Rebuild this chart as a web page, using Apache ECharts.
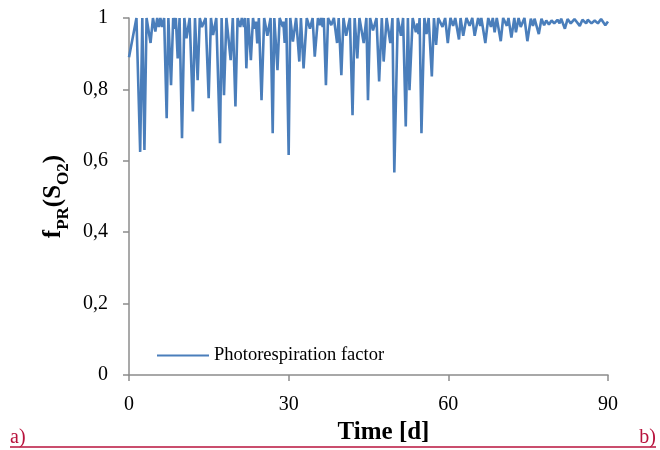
<!DOCTYPE html>
<html>
<head>
<meta charset="utf-8">
<script src="https://cdn.jsdelivr.net/npm/echarts@6/dist/echarts.min.js"></script>
<style>html,body{margin:0;padding:0;background:#fff}#c{width:660px;height:450px}</style>
</head>
<body>
<div id="c"></div>
<script>
var xTicks = [0, 30, 60, 90];
var yTicks = [0, 0.2, 0.4, 0.6, 0.8, 1];
var timeDays = [
0,1.4,2.1,2.5,2.9,3.3,4.05,4.5,4.95,5.3,5.6,5.9,6.2,6.6,7.08,7.4,7.9,8.3,8.6,8.8,9.15,9.5,9.96,10.4,10.8,11.4,12.0,12.4,12.9,13.3,13.7,14.4,14.97,15.4,15.8,16.4,17.1,17.4,17.85,18.3,19.1,19.5,20.0,20.4,20.9,21.2,21.6,21.8,22.05,22.4,22.9,23.3,23.6,23.85,24.1,24.4,24.9,25.4,26.0,26.6,27.0,27.3,27.9,28.3,28.9,29.0,29.25,29.55,30.0,30.3,30.8,31.4,32.0,32.3,32.8,33.4,34.0,34.5,34.9,35.5,35.9,36.1,36.4,36.6,37.0,37.4,38.0,38.5,39.1,39.4,39.9,40.3,40.8,41.5,42.0,42.4,42.9,43.3,44.1,44.6,44.9,45.3,45.85,46.5,47.0,47.5,47.85,48.4,49.1,49.5,49.85,50.5,51.1,51.5,52.0,52.4,52.7,53.3,53.9,54.2,54.4,54.6,54.95,55.5,55.9,56.3,56.9,57.3,57.7,58.1,58.9,59.4,59.9,60.4,60.9,61.3,62.0,62.3,62.8,63.4,64.0,64.5,64.95,65.6,66.0,66.2,66.95,67.5,68.0,68.35,68.7,69.1,69.85,70.3,71.0,71.3,71.85,72.4,72.7,73.2,73.6,74.3,74.85,75.5,75.9,76.2,77.0,77.5,78.0,78.4,78.9,79.4,79.9,80.5,80.9,81.2,81.9,82.4,83.0,83.7,84.7,85.2,85.9,86.2,86.9,87.5,88.1,88.7,89.5,90
];
var photoFactor = [
0.89,1.0,0.625,1.0,0.63,1.0,0.93,1.0,0.962,1.0,0.975,1.0,0.975,1.0,0.719,1.0,0.812,1.0,0.97,1.0,0.887,1.0,0.663,1.0,0.943,1.0,0.738,1.0,0.826,1.0,0.975,1.0,0.775,1.0,0.952,1.0,0.649,1.0,0.784,1.0,0.882,1.0,0.752,1.0,0.975,1.0,0.975,1.0,0.859,1.0,0.882,1.0,0.97,0.99,0.929,1.0,0.770,1.0,0.95,1.0,0.677,1.0,0.854,1.0,0.975,0.99,0.93,1.0,0.616,1.0,0.934,1.0,0.878,1.0,0.859,1.0,0.97,1.0,0.892,1.0,0.98,1.0,0.975,1.0,0.812,1.0,0.98,1.0,0.93,1.0,0.840,1.0,0.95,1.0,0.728,1.0,0.887,1.0,0.93,1.0,0.770,1.0,0.965,1.0,0.822,1.0,0.878,1.0,0.93,1.0,0.567,1.0,0.95,1.0,0.696,1.0,0.798,1.0,0.96,0.985,0.955,1.0,0.677,1.0,0.955,1.0,0.836,1.0,0.925,1.0,0.975,1.0,0.93,1.0,0.978,1.0,0.94,1.0,0.95,1.0,0.978,1.0,0.95,1.0,0.978,1.0,0.93,1.0,0.975,1.0,0.96,1.0,0.935,1.0,0.978,1.0,0.945,1.0,0.96,1.0,0.975,1.0,0.935,0.998,0.978,0.998,0.955,0.998,0.98,0.993,0.982,0.993,0.985,0.995,0.985,0.998,0.97,0.997,0.985,0.997,0.978,0.995,0.985,0.995,0.985,0.993,0.985,0.997,0.98,0.99
];
var seriesName = 'Photorespiration factor';
var xTitle = 'Time [d]';

var points = timeDays.map(function (t, i) { return [t, photoFactor[i]]; });
var serif = '"Liberation Serif", "Times New Roman", serif';
var axisGray = '#8c8c8c';
var lineBlue = '#4a7ebb';
var crimson = '#b8133d';

var chart = echarts.init(document.getElementById('c'));
chart.setOption({
  animation: false,
  backgroundColor: '#fff',
  grid: { left: 129, right: 52, top: 18, bottom: 75, containLabel: false },
  legend: {
    left: 152, top: 341,
    itemWidth: 52, itemHeight: 14, itemGap: 6,
    textStyle: { fontFamily: serif, fontSize: 18.5, color: '#000' },
    data: [{ name: seriesName, icon: 'path://M0,6L52,6L52,8L0,8Z' }]
  },
  xAxis: {
    type: 'value', min: xTicks[0], max: xTicks[xTicks.length - 1], interval: 30,
    name: xTitle, nameLocation: 'middle', nameGap: 43,
    nameTextStyle: { fontFamily: serif, fontSize: 25, fontWeight: 'bold', color: '#000', padding: [0, 0, 0, 30] },
    axisLine: { show: true, lineStyle: { color: axisGray, width: 1.5 } },
    axisTick: { show: true, length: 6, inside: false, lineStyle: { color: axisGray, width: 1.5 } },
    axisLabel: { margin: 20, fontFamily: serif, fontSize: 20, color: '#000' },
    splitLine: { show: false }
  },
  yAxis: {
    type: 'value', min: yTicks[0], max: yTicks[yTicks.length - 1], interval: 0.2,
    name: '{b|f}{s|PR}{b|(S}{s|O2}{b|)}', nameLocation: 'middle', nameGap: 56, nameRotate: 90,
    nameTextStyle: {
      padding: [0, 0, 0, 0],
      rich: {
        b: { fontFamily: serif, fontSize: 25, fontWeight: 'bold', color: '#000', lineHeight: 30, verticalAlign: 'bottom' },
        s: { fontFamily: serif, fontSize: 17, fontWeight: 'bold', color: '#000', lineHeight: 22, verticalAlign: 'bottom', padding: [0, 0, -6, 0] }
      }
    },
    axisLine: { show: true, lineStyle: { color: axisGray, width: 1.5 } },
    axisTick: { show: true, length: 6, inside: false, lineStyle: { color: axisGray, width: 1.5 } },
    axisLabel: {
      margin: 21, fontFamily: serif, fontSize: 20, color: '#000',
      formatter: function (v) { return String(Math.round(v * 10) / 10).replace('.', ','); }
    },
    splitLine: { show: false }
  },
  graphic: [
    { type: 'text', left: 10, top: 428, style: { text: 'a)', font: '20px ' + serif, fill: crimson } },
    { type: 'text', right: 4, top: 428, style: { text: 'b)', font: '20px ' + serif, fill: crimson } },
    { type: 'line', shape: { x1: 10, y1: 447, x2: 656, y2: 447 }, style: { stroke: crimson, lineWidth: 1.5 } }
  ],
  series: [{
    name: seriesName, type: 'line', data: points,
    symbol: 'none', smooth: false,
    lineStyle: { color: lineBlue, width: 2.6 },
    itemStyle: { color: lineBlue }
  }]
});
</script>
</body>
</html>
